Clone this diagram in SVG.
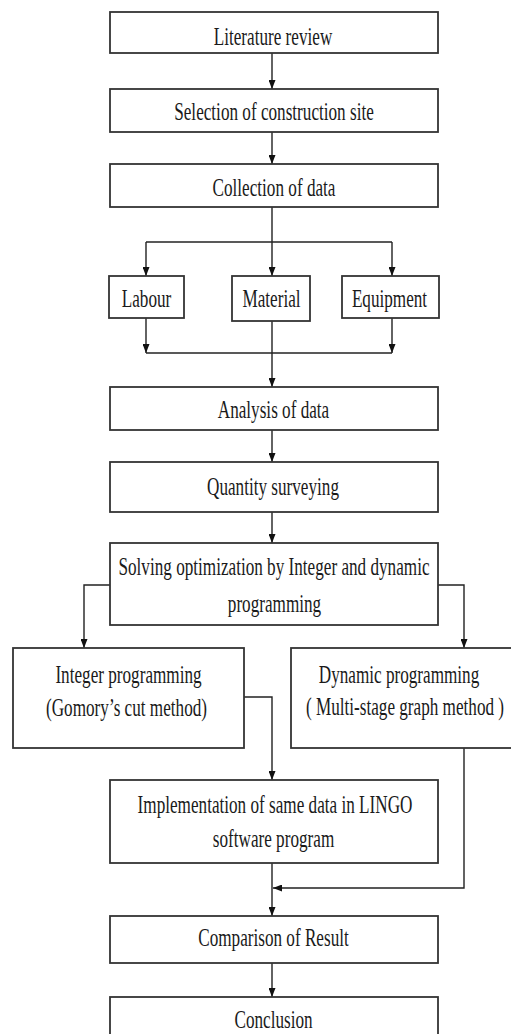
<svg xmlns="http://www.w3.org/2000/svg" width="511" height="1034" viewBox="0 0 511 1034">
<defs>
<marker id="ah" markerUnits="userSpaceOnUse" markerWidth="9" markerHeight="7" refX="9" refY="3.5" orient="auto">
<path d="M0,0 L9,3.5 L0,7 z" fill="#111"/>
</marker>
<style>
.box{fill:#fff;stroke:#333;stroke-width:1.8}
.t{font-family:"Liberation Serif","Times New Roman",serif;font-size:26px;fill:#1a1a1a;text-anchor:middle}
.c{fill:none;stroke:#222;stroke-width:1.4}
</style>
</defs>
<rect width="511" height="1034" fill="#fff"/>
<g id="connectors">
<path class="c" d="M272,53 V89" marker-end="url(#ah)"/>
<path class="c" d="M272,132 V164" marker-end="url(#ah)"/>
<path class="c" d="M272,207 V276" marker-end="url(#ah)"/>
<path class="c" d="M146,242 H392"/>
<path class="c" d="M146,242 V276" marker-end="url(#ah)"/>
<path class="c" d="M392,242 V276" marker-end="url(#ah)"/>
<path class="c" d="M146,318 V353" marker-end="url(#ah)"/>
<path class="c" d="M392,318 V353" marker-end="url(#ah)"/>
<path class="c" d="M146,353 H392"/>
<path class="c" d="M272,321 V387" marker-end="url(#ah)"/>
<path class="c" d="M272,430 V462" marker-end="url(#ah)"/>
<path class="c" d="M272,512 V543" marker-end="url(#ah)"/>
<path class="c" d="M110,585 H84 V648" marker-end="url(#ah)"/>
<path class="c" d="M438,585 H464 V648" marker-end="url(#ah)"/>
<path class="c" d="M244,697 H272 V780" marker-end="url(#ah)"/>
<path class="c" d="M464,748 V888 H273" marker-end="url(#ah)"/>
<path class="c" d="M272,863 V916" marker-end="url(#ah)"/>
<path class="c" d="M272,963 V997" marker-end="url(#ah)"/>
</g>
<g id="n1"><rect class="box" x="110" y="12" width="328" height="41"/><text class="t" transform="translate(273,45) scale(0.66,1)">Literature review</text></g>
<g id="n2"><rect class="box" x="110" y="89" width="328" height="43"/><text class="t" transform="translate(274,120) scale(0.66,1)">Selection of construction site</text></g>
<g id="n3"><rect class="box" x="110" y="164" width="328" height="43"/><text class="t" transform="translate(274,196) scale(0.66,1)">Collection of data</text></g>
<g id="n4"><rect class="box" x="109" y="276" width="75" height="42"/><text class="t" transform="translate(146.5,307) scale(0.66,1)">Labour</text></g>
<g id="n5"><rect class="box" x="232" y="276" width="78" height="45"/><text class="t" transform="translate(271.5,307) scale(0.66,1)">Material</text></g>
<g id="n6"><rect class="box" x="342" y="276" width="97" height="42"/><text class="t" transform="translate(389.5,307) scale(0.66,1)">Equipment</text></g>
<g id="n7"><rect class="box" x="110" y="387" width="328" height="43"/><text class="t" transform="translate(273.5,418) scale(0.66,1)">Analysis of data</text></g>
<g id="n8"><rect class="box" x="110" y="462" width="328" height="50"/><text class="t" transform="translate(273,495) scale(0.66,1)">Quantity surveying</text></g>
<g id="n9"><rect class="box" x="110" y="543" width="328" height="82"/><text class="t" transform="translate(274,575) scale(0.66,1)">Solving optimization by Integer and dynamic</text><text class="t" transform="translate(274.5,612) scale(0.66,1)">programming</text></g>
<g id="n10"><rect class="box" x="13" y="648" width="231" height="100"/><text class="t" transform="translate(128.5,683) scale(0.66,1)">Integer programming</text><text class="t" transform="translate(126.5,716) scale(0.66,1)">(Gomory’s cut method)</text></g>
<g id="n11"><rect class="box" x="291" y="648" width="225" height="100"/><text class="t" transform="translate(399,683) scale(0.66,1)">Dynamic programming</text><text class="t" transform="translate(405,715) scale(0.66,1)">( Multi-stage graph method )</text></g>
<g id="n12"><rect class="box" x="110" y="780" width="328" height="83"/><text class="t" transform="translate(275,813) scale(0.66,1)">Implementation of same data in LINGO</text><text class="t" transform="translate(273.5,847) scale(0.66,1)">software program</text></g>
<g id="n13"><rect class="box" x="110" y="916" width="328" height="47"/><text class="t" transform="translate(273.5,946) scale(0.66,1)">Comparison of Result</text></g>
<g id="n14"><rect class="box" x="110" y="997" width="328" height="50"/><text class="t" transform="translate(273.5,1028) scale(0.66,1)">Conclusion</text></g>
</svg>
